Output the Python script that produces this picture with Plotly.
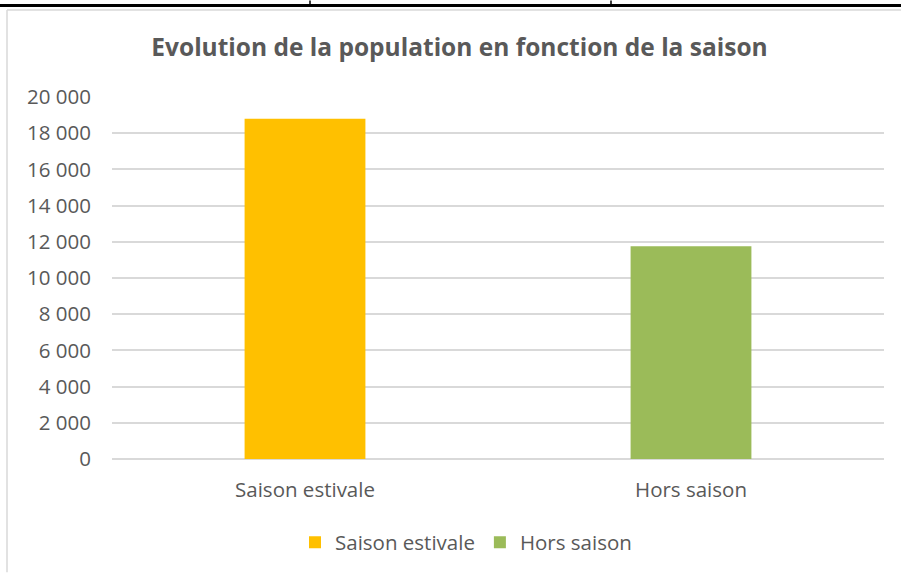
import plotly.graph_objects as go

# --- Données ---
categories = ["Saison estivale", "Hors saison"]
population = [18800, 11750]
couleurs = ["#FFC000", "#9BBB59"]
y_ticks = list(range(0, 20001, 2000))

W, H = 901, 575
L, R, T, B = 112, 17, 97, 114  # zone de tracé : x 112-884, y 97-461
pw, ph = W - L - R, H - T - B


def px(x):
    return (x - L) / pw


def py(y):
    return (H - B - y) / ph


fig = go.Figure()
for cat, val, col in zip(categories, population, couleurs):
    fig.add_trace(go.Bar(x=[cat], y=[val], name=cat, marker_color=col,
                         width=0.313, marker_line_width=0))

txt = "#595959"
police = "Open Sans, Calibri, sans-serif"
fig.update_layout(
    width=W, height=H,
    margin=dict(l=L, r=R, t=T, b=B),
    paper_bgcolor="white", plot_bgcolor="white",
    font=dict(family=police, size=20.5, color=txt),
    separators=", ",
    barmode="overlay",
    title=dict(text="<b>Evolution de la population en fonction de la saison</b>",
               x=459.5 / W, xref="container", xanchor="center",
               y=1 - 47 / H, yref="container", yanchor="middle",
               font=dict(size=24.5, color=txt)),
    legend=dict(orientation="h", x=px(466), xanchor="center",
                y=py(545), yanchor="middle", font=dict(size=20.5, color=txt),
                itemwidth=30, traceorder="normal"),
    xaxis=dict(categoryorder="array", categoryarray=categories,
               showgrid=False, showline=False, ticks="",
               ticklabelstandoff=16, tickfont=dict(size=20.5, color=txt)),
    yaxis=dict(range=[0, 20000], tickvals=y_ticks, tickformat=",d",
               showgrid=True, gridcolor="#D9D9D9", gridwidth=1.5,
               zeroline=True, zerolinecolor="#D9D9D9", zerolinewidth=1.5,
               showline=False, ticks="", ticklabelstandoff=20,
               tickfont=dict(size=20.5, color=txt)),
)

# bordures du tableau et du cadre du graphique (comme la capture Excel)
shapes = [
    dict(type="line", x0=px(0), x1=px(W), y0=py(5), y1=py(5),
         line=dict(color="black", width=3)),
    dict(type="line", x0=px(310), x1=px(310), y0=py(0), y1=py(5),
         line=dict(color="black", width=1.5)),
    dict(type="line", x0=px(611), x1=px(611), y0=py(0), y1=py(5),
         line=dict(color="black", width=1.5)),
    dict(type="line", x0=px(7), x1=px(W), y0=py(9.5), y1=py(9.5),
         line=dict(color="#D9D9D9", width=1.5)),
    dict(type="line", x0=px(7), x1=px(7), y0=py(9.5), y1=py(H),
         line=dict(color="#D9D9D9", width=1.5)),
]
for s in shapes:
    s.update(xref="paper", yref="paper", layer="above")
fig.update_layout(shapes=shapes)

fig.write_html("out.html", config={"displayModeBar": False},
               post_script="document.body.style.margin='0';")
